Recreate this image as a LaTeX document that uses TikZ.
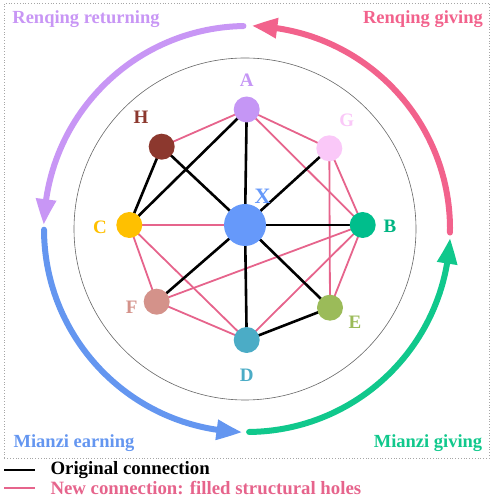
\documentclass[tikz,border=0pt]{standalone}
\usepackage{fontspec}
\setmainfont{Liberation Serif}
\usetikzlibrary{arrows.meta,backgrounds,bending}
\definecolor{cA}{RGB}{197,150,245}
\definecolor{cH}{RGB}{140,56,46}
\definecolor{cG}{RGB}{250,200,248}
\definecolor{cX}{RGB}{102,153,250}
\definecolor{cC}{RGB}{255,192,0}
\definecolor{cB}{RGB}{0,190,140}
\definecolor{cF}{RGB}{212,146,138}
\definecolor{cE}{RGB}{155,187,89}
\definecolor{cD}{RGB}{75,172,198}
\definecolor{pinkedge}{RGB}{230,100,140}
\definecolor{rgive}{RGB}{242,98,140}
\definecolor{rret}{RGB}{200,150,245}
\definecolor{mearn}{RGB}{100,150,240}
\definecolor{mgive}{RGB}{16,200,140}
\definecolor{lbB}{RGB}{0,180,130}
\tikzset{
  vert/.style={circle,inner sep=0pt,minimum size=26pt},
  vlabel/.style={font=\fontsize{19}{20}\selectfont\bfseries},
  oldedge/.style={black,line width=2.6pt},
  newedge/.style={pinkedge,line width=1.8pt},
  flow/.style={line width=6pt,line cap=round,-{Triangle[length=26pt,width=19pt,bend]}},
  corner/.style={font=\fontsize{18.5}{20}\selectfont\bfseries},
  legtext/.style={font=\fontsize{18.8}{20}\selectfont\bfseries,anchor=west},
}
\begin{document}
\begin{tikzpicture}[x=1pt,y=1pt]
\useasboundingbox (0,0) rectangle (493,500);
\draw[gray!70,dotted,line width=0.8pt] (4,42) rectangle (489.5,496.5);
\coordinate (O) at (247,271);
\draw[gray!80!black,line width=0.6pt] (245,271) circle[radius=171];
% nodes
\node[vert,fill=cA] (A) at (246.7,390.5) {};
\node[vert,fill=cH] (H) at (161.7,353.3) {};
\node[vert,fill=cG] (G) at (329.3,351.7) {};
\node[vert,fill=cX,minimum size=42pt] (X) at (245,275) {};
\node[vert,fill=cC] (C) at (129.3,275) {};
\node[vert,fill=cB] (B) at (362.7,275) {};
\node[vert,fill=cF] (F) at (156.7,198.3) {};
\node[vert,fill=cE] (E) at (330,192.3) {};
\node[vert,fill=cD] (D) at (246.7,160) {};
% labels
\node[vlabel,text=cA] (lA) at (246.7,420) {A};
\node[vlabel,text=cH] (lH) at (141,383) {H};
\node[vlabel,text=cG] (lG) at (346.7,380) {G};
\node[vlabel,text=cX,font=\fontsize{22}{24}\selectfont\bfseries] (lX) at (262.5,304) {X};
\node[vlabel,text=cC] (lC) at (100,273) {C};
\node[vlabel,text=lbB] (lB) at (390,274) {B};
\node[vlabel,text=cF] (lF) at (131.7,193) {F};
\node[vlabel,text=cE] (lE) at (355,177.3) {E};
\node[vlabel,text=cD] (lD) at (246.7,125) {D};
% edges
\begin{scope}[on background layer]
\foreach \u/\v in {H/A,A/G,A/B,G/B,G/E,C/X,C/F,C/D,B/F,B/D,B/E,F/D}
  \draw[newedge] (\u.center) -- (\v.center);
\foreach \u/\v in {H/C,C/A,H/X,A/X,G/X,X/B,X/F,X/D,X/E,D/E}
  \draw[oldedge] (\u.center) -- (\v.center);
\end{scope}
% flow arcs
\draw[flow,rgive] ([shift={(-1:203)}]O) arc[start angle=-1,end angle=88.7,radius=203];
\draw[flow,rret] ([shift={(91:203)}]O) arc[start angle=91,end angle=178.9,radius=203];
\draw[flow,mearn] ([shift={(180.2:203)}]O) arc[start angle=180.2,end angle=268.7,radius=203];
\draw[flow,mgive] ([shift={(270.6:203)}]O) arc[start angle=270.6,end angle=357.5,radius=203];
% corner labels
\node[corner,text=rret] (t1) at (86,481) {Renqing returning};
\node[corner,text=rgive] (t2) at (423,481) {Renqing giving};
\node[corner,text=mearn] (t3) at (74,57) {Mianzi earning};
\node[corner,text=mgive] (t4) at (428,57) {Mianzi giving};
% legend
\draw[black,line width=1.8pt] (4,30) -- (35,30);
\draw[pinkedge,line width=1.8pt] (4,12) -- (35,12);
\node[legtext] (l1) at (47,30) {Original connection};
\node[legtext,text=pinkedge] (l2) at (47,12) {New connection: filled structural holes};
\end{tikzpicture}
\end{document}
